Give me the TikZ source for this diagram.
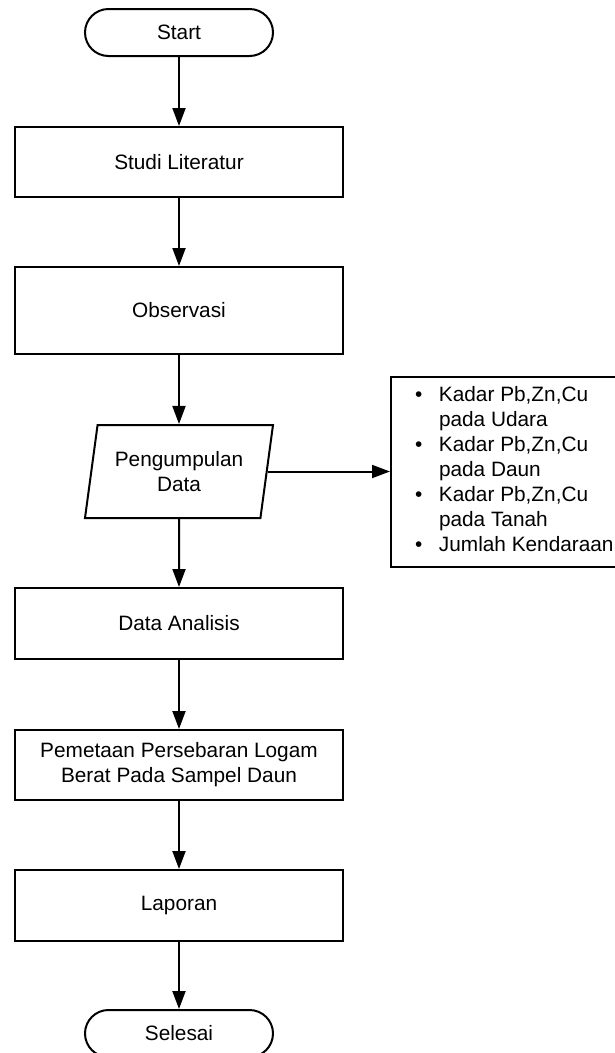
\documentclass[tikz,border=0pt]{standalone}
\usepackage{fontspec}
\setmainfont{Liberation Sans}
\usetikzlibrary{shapes.geometric, arrows.meta}

\begin{document}
\begin{tikzpicture}[x=1pt, y=-1pt, line width=2pt, font=\fontsize{20.8}{25}\selectfont,
	box/.style={draw, rectangle, minimum width=328pt, minimum height=70pt, align=center},
	term/.style={draw, rectangle, rounded corners=23.5pt, minimum width=188pt, minimum height=47pt},
	io/.style={draw, trapezium, trapezium left angle=75, trapezium right angle=105, trapezium stretches body, minimum width=188pt, minimum height=93pt, align=center},
	arr/.style={-{Triangle[length=18pt, width=13pt]}}]
	\useasboundingbox (0,0) rectangle (615,1053);
	\node[term] (start) at (179,32.5) {Start};
	\node[box] (studi) at (179,162) {Studi Literatur};
	\node[box, minimum height=87pt] (obs) at (179,310.5) {Observasi};
	\node[io] (kumpul) at (179,471.5) {Pengumpulan\\Data};
	\node[draw, anchor=west, minimum height=190pt, inner xsep=24pt, inner ysep=0pt] (detail) at (390,471.5)
		{\begin{tabular}{@{}p{24pt}@{}l@{}}
		\textbullet & Kadar Pb,Zn,Cu\\ & pada Udara\\
		\textbullet & Kadar Pb,Zn,Cu\\ & pada Daun\\
		\textbullet & Kadar Pb,Zn,Cu\\ & pada Tanah\\
		\textbullet & Jumlah Kendaraan
		\end{tabular}};
	\node[box, minimum height=71pt] (analisis) at (179,623.5) {Data Analisis};
	\node[box] (peta) at (179,765) {Pemetaan Persebaran Logam\\Berat Pada Sampel Daun};
	\node[box, minimum height=71pt] (lapor) at (179,905.5) {Laporan};
	\node[term] (selesai) at (179,1033.5) {Selesai};
	\draw[arr] (start) -- (studi);
	\draw[arr] (studi) -- (obs);
	\draw[arr] (obs) -- (kumpul);
	\draw[arr] (kumpul) -- (detail);
	\draw[arr] (kumpul) -- (analisis);
	\draw[arr] (analisis) -- (peta);
	\draw[arr] (peta) -- (lapor);
	\draw[arr] (lapor) -- (selesai);
\end{tikzpicture}
\end{document}
